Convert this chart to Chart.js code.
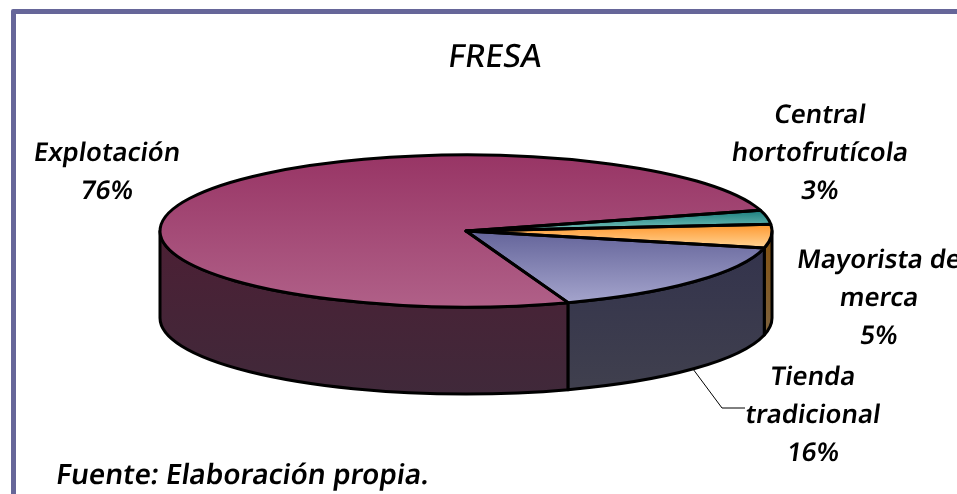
<!DOCTYPE html>
<html>
<head>
<meta charset="utf-8">
<title>FRESA</title>
<script src="https://cdn.jsdelivr.net/npm/chart.js@4"></script>
<style>
  html, body { margin: 0; padding: 0; background: #fff; width: 957px; height: 494px; overflow: hidden; }
  #frame { position: absolute; left: 11px; top: 9px; width: 970px; height: 510px; border: 5px solid #666699; border-radius: 2px; }
  #wrap { position: absolute; left: 0; top: 0; width: 957px; height: 494px; }
</style>
</head>
<body>
<div id="frame"></div>
<div id="wrap"><canvas id="myChart" width="957" height="494"></canvas></div>
<script>
// DATA
const categories = ["Explotación", "Central hortofrutícola", "Mayorista de merca", "Tienda tradicional"];
const values = [76, 3, 5, 16];
const chartTitle = "FRESA";
const sourceNote = "Fuente: Elaboración propia.";

// how the category names wrap in the labels
const labelLines = [["Explotación"], ["Central", "hortofrutícola"], ["Mayorista de", "merca"], ["Tienda", "tradicional"]];

// STYLE
const topColors = [["#983565", "#b06088"], ["#1a7c7c", "#78c4bc"], ["#ff982e", "#ffd496"], ["#64649a", "#a4a4cc"]];
const sideColors = [["#4c1f34", "#40293a"], ["#000000", "#000000"], ["#85520f", "#7a6c58"], ["#32324c", "#40404e"]];
const labelPos = [[107, 154], [820, 116], [879, 261], [813, 378]];
const labelStep = 38;

const radiusX = 306;
const radiusY = 76;
const depth = 87;
const squash = radiusY / radiusX;
const startDeg = 160.5;
const labelFont = '600 25.8px "Noto Sans"';

// top and bottom of a slice on the screen, used for the top gradients
function sliceRange(index, cy) {
  const total = values.reduce((a, b) => a + b, 0);
  let start = (startDeg - 90) * Math.PI / 180;
  for (let i = 0; i < index; i++) start += values[i] / total * Math.PI * 2;
  const end = start + values[index] / total * Math.PI * 2;
  let minY = cy, maxY = cy;
  for (let k = 0; k <= 60; k++) {
    const y = cy + Math.sin(start + (end - start) * k / 60) * radiusY;
    if (y < minY) minY = y;
    if (y > maxY) maxY = y;
  }
  return [minY, maxY];
}

function topFill(ctx) {
  const chart = ctx.chart;
  if (!chart.chartArea) return topColors[ctx.dataIndex][0];
  const cy = (chart.chartArea.top + chart.chartArea.bottom) / 2;
  const range = sliceRange(ctx.dataIndex, cy);
  // the gradient lives inside the squashed drawing, so undo the squash here
  const y0 = cy + (range[0] - cy) / squash;
  const y1 = cy + (range[1] - cy) / squash;
  const g = chart.ctx.createLinearGradient(0, y0, 0, y1);
  g.addColorStop(0, topColors[ctx.dataIndex][0]);
  g.addColorStop(1, topColors[ctx.dataIndex][1]);
  return g;
}

// draws the wall below the pie, then squashes the arcs into an ellipse
const pie3d = {
  id: "pie3d",
  beforeDatasetDraw(chart) {
    const ctx = chart.ctx;
    const arcs = chart.getDatasetMeta(0).data;
    const full = Math.PI * 2;
    ctx.save();
    ctx.lineWidth = 3;
    ctx.strokeStyle = "#000";
    ctx.lineJoin = "round";
    arcs.forEach((arc, i) => {
      [-full, 0, full].forEach(shift => {
        const a = Math.max(arc.startAngle + shift, 0);
        const b = Math.min(arc.endAngle + shift, Math.PI);
        if (b <= a) return;
        const g = ctx.createLinearGradient(0, arc.y, 0, arc.y + radiusY + depth);
        g.addColorStop(0, sideColors[i][0]);
        g.addColorStop(1, sideColors[i][1]);
        ctx.beginPath();
        ctx.ellipse(arc.x, arc.y, radiusX, radiusY, 0, a, b);
        ctx.ellipse(arc.x, arc.y + depth, radiusX, radiusY, 0, b, a, true);
        ctx.closePath();
        ctx.fillStyle = g;
        ctx.fill();
        ctx.stroke();
      });
    });
    ctx.restore();

    const first = arcs[0];
    ctx.save();
    ctx.translate(first.x, first.y);
    ctx.scale(1, squash);
    ctx.translate(-first.x, -first.y);
  },
  afterDatasetDraw(chart) {
    const ctx = chart.ctx;
    ctx.restore();
    // outline afterwards so the line width is not squashed as well
    ctx.save();
    ctx.lineWidth = 3;
    ctx.strokeStyle = "#000";
    ctx.lineJoin = "round";
    chart.getDatasetMeta(0).data.forEach(arc => {
      ctx.beginPath();
      ctx.moveTo(arc.x, arc.y);
      ctx.ellipse(arc.x, arc.y, radiusX, radiusY, 0, arc.startAngle, arc.endAngle);
      ctx.closePath();
      ctx.stroke();
    });
    ctx.restore();
  }
};

// upright font leaned over a little, the installed italics come out too narrow
function leanText(ctx, text, x, y) {
  ctx.save();
  ctx.transform(1, 0, -0.14, 1, x, y);
  ctx.fillText(text, 0, 0);
  ctx.restore();
}

// title, source and slice labels
const texts = {
  id: "texts",
  afterDraw(chart) {
    const ctx = chart.ctx;
    ctx.save();
    ctx.fillStyle = "#000";
    ctx.textBaseline = "middle";
    ctx.textAlign = "center";

    ctx.font = '500 32px "Noto Sans"';
    leanText(ctx, chartTitle, 495, 58);

    ctx.font = labelFont;
    categories.forEach((name, i) => {
      const lines = labelLines[i].concat(values[i] + "%");
      lines.forEach((line, n) => {
        leanText(ctx, line, labelPos[i][0], labelPos[i][1] + n * labelStep);
      });
    });

    ctx.textAlign = "left";
    ctx.font = '600 28px "Noto Sans"';
    leanText(ctx, sourceNote, 56, 476);

    // leader line of the last label
    ctx.strokeStyle = "#000";
    ctx.lineWidth = 1;
    ctx.beginPath();
    ctx.moveTo(693, 369);
    ctx.lineTo(722, 408);
    ctx.lineTo(745, 408);
    ctx.stroke();
    ctx.restore();
  }
};

new Chart(document.getElementById("myChart"), {
  type: "pie",
  data: {
    labels: categories,
    datasets: [{
      data: values,
      backgroundColor: topFill,
      borderWidth: 0,
      clip: false
    }]
  },
  options: {
    responsive: false,
    animation: false,
    rotation: startDeg,
    radius: radiusX,
    layout: { padding: { right: 25, bottom: 32 } },
    plugins: {
      legend: { display: false },
      tooltip: { enabled: false }
    }
  },
  plugins: [pie3d, texts]
});
</script>
</body>
</html>
